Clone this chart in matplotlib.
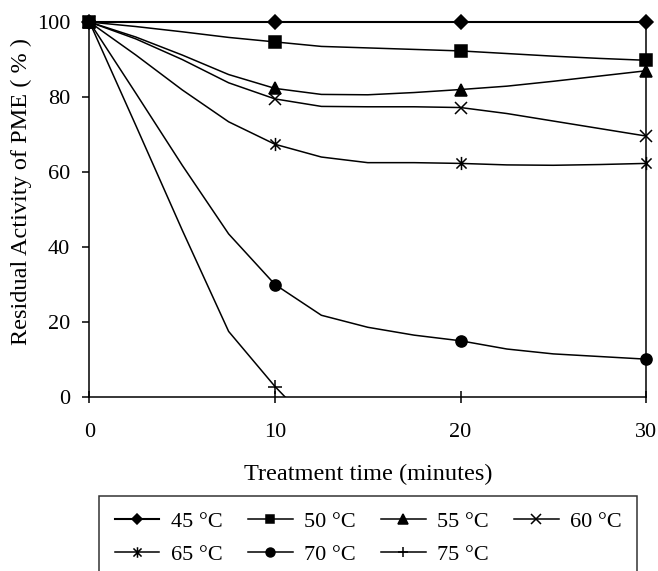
import numpy as np
import matplotlib
matplotlib.use('Agg')
import matplotlib.pyplot as plt
from matplotlib.path import Path

plt.rcParams['font.family'] = ['Liberation Serif', 'DejaVu Serif']

# treatment time (min), values read every 2.5 min
t = [0, 2.5, 5, 7.5, 10, 12.5, 15, 17.5, 20, 22.5, 25, 27.5, 30]

pme_45 = [100, 100, 100, 100, 100, 100, 100, 100, 100, 100, 100, 100, 100]
pme_50 = [100, 98.8, 97.4, 95.9, 94.7, 93.5, 93.1, 92.7, 92.3, 91.6, 90.9, 90.3, 89.8]
pme_55 = [100, 96.0, 91.2, 86.0, 82.3, 80.7, 80.6, 81.2, 82.0, 82.9, 84.2, 85.6, 87.0]
pme_60 = [100, 95.5, 90.0, 83.8, 79.5, 77.5, 77.4, 77.4, 77.2, 75.6, 73.6, 71.6, 69.6]
pme_65 = [100, 91.2, 81.9, 73.4, 67.4, 64.0, 62.5, 62.5, 62.3, 61.9, 61.8, 62.0, 62.3]
pme_70 = [100, 81.0, 61.8, 43.5, 30.0, 21.8, 18.6, 16.5, 15.0, 12.8, 11.5, 10.8, 10.1]
pme_75 = [100, 72.4, 44.5, 17.5, 2.8, -10, np.nan, np.nan, np.nan, np.nan, np.nan, np.nan, np.nan]

labels = ['45 °C', '50 °C', '55 °C', '60 °C', '65 °C', '70 °C', '75 °C']
xticks = [0, 10, 20, 30]
yticks = [0, 20, 40, 60, 80, 100]

# excel style star: x with vertical bar
star = Path([(-1, -1), (1, 1), (-1, 1), (1, -1), (0, -1.3), (0, 1.3)],
            [Path.MOVETO, Path.LINETO, Path.MOVETO, Path.LINETO, Path.MOVETO, Path.LINETO])

series = [pme_45, pme_50, pme_55, pme_60, pme_65, pme_70, pme_75]
markers = ['D', 's', '^', 'x', star, 'o', '+']
msizes = [7, 8, 9, 8.5, 9.5, 8, 9.5]

fig = plt.figure(figsize=(6.58, 5.71), dpi=100)
ax = fig.add_axes([0.1360, 0.3047, 0.8458, 0.6567])

handles = []
for i in range(len(series)):
    lw = 1.5 if i == 0 else 1.1
    every = [0, 4] if i == 6 else [0, 4, 8, 12]
    h, = ax.plot(t, series[i], color='black', lw=lw, marker=markers[i], ms=msizes[i],
                 mew=1.1, mfc='black', mec='black', markevery=every, label=labels[i],
                 clip_on=(i == 6), zorder=3)
    handles.append(h)

ax.set_xlim(0, 30)
ax.set_ylim(0, 100)
ax.set_xticks(xticks)
ax.set_yticks(yticks)
ax.spines['top'].set_visible(False)
for s in ['left', 'bottom', 'right']:
    ax.spines[s].set_linewidth(1.1)
ax.tick_params(axis='x', direction='inout', length=9, width=1.1, pad=14, labelsize=16)
ax.tick_params(axis='y', direction='out', length=5, width=1.1, pad=9, labelsize=16)

ax.set_xlabel('Treatment time (minutes)', fontsize=17.5)
ax.set_ylabel('Residual Activity of PME ( % )', fontsize=17.5)
ax.xaxis.set_label_coords(0.5, -0.178)
ax.yaxis.set_label_coords(-0.103, 0.547)

# legend reads row by row, matplotlib fills columns first
order = [0, 4, 1, 5, 2, 6, 3]
leg = fig.legend([handles[k] for k in order], [labels[k] for k in order],
                 loc='upper left', bbox_to_anchor=(0.1512, 0.1313, 0.8168, 0.0),
                 mode='expand', ncol=4, fontsize=16, frameon=True, fancybox=False,
                 edgecolor='black', borderaxespad=0, borderpad=0.7, labelspacing=0.55,
                 handlelength=2.0, handletextpad=0.5, markerscale=0.8)
leg.get_frame().set_linewidth(1.1)

fig.savefig('out.png', dpi=100)
